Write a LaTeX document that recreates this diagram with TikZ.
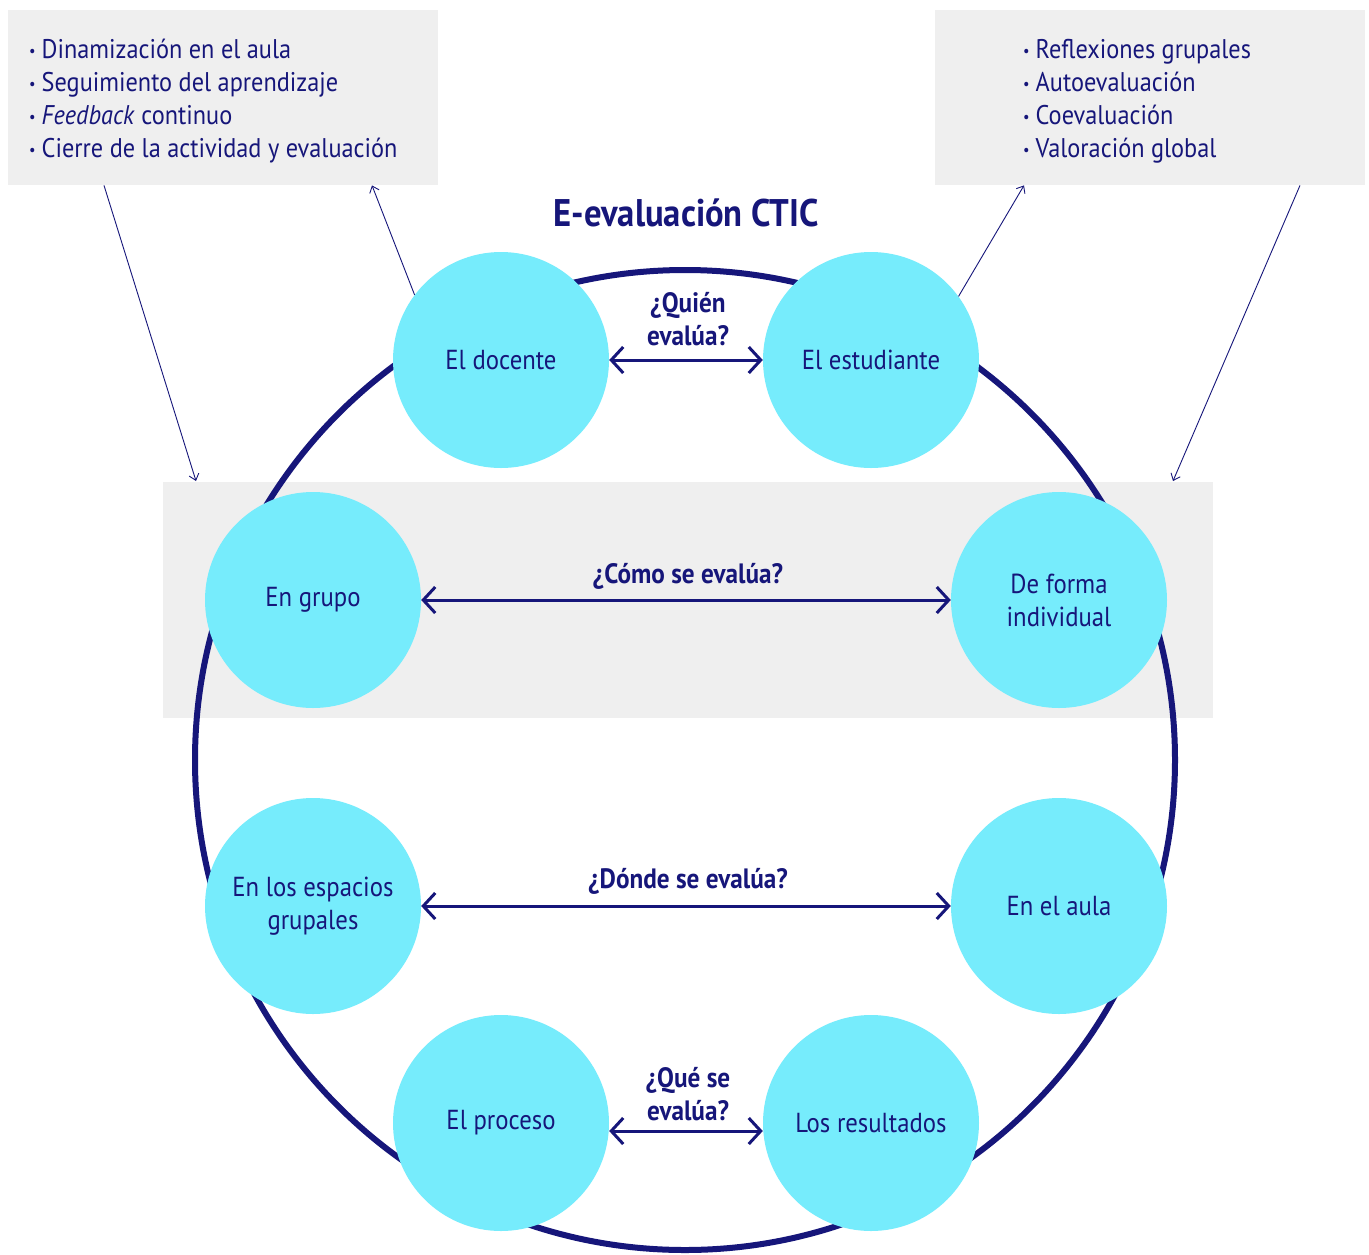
\documentclass[tikz,border=0pt]{standalone}
\usepackage{fontspec}
\setmainfont{PT Sans}[FakeStretch=0.9]
\usetikzlibrary{arrows.meta}
\definecolor{navy}{HTML}{16167A}
\definecolor{cyanf}{HTML}{76ECFC}
\definecolor{grayb}{HTML}{EFEFEF}
\newcommand\bul{{\fontsize{16}{16}\selectfont\raisebox{2pt}{•}}\hspace{6pt}}
\begin{document}
\begin{tikzpicture}[x=1pt,y=-1pt,
  bub/.style={circle, fill=cyanf, minimum size=216pt, inner sep=0pt, text=navy,
    font=\fontsize{27.5}{33}\selectfont, align=center},
  graybox/.style={fill=grayb, inner sep=0pt, anchor=north west},
  listline/.style={anchor=base west, inner sep=0pt, text=navy,
    font=\fontsize{27}{33}\selectfont},
  qlabel/.style={text=navy, font=\bfseries\fontsize{28}{33}\selectfont, align=center, inner sep=0pt},
  thinarrow/.style={draw=navy, line width=0.9pt, -{Straight Barb[length=6pt,width=10pt]}},
  bigarrow/.style={draw=navy, line width=3pt, {Straight Barb[length=12pt,width=26pt]}-{Straight Barb[length=12pt,width=26pt]}}
]
\useasboundingbox (0,0) rectangle (1369,1254);
\fill[white] (0,0) rectangle (1369,1254);

% gray boxes
\node[graybox, minimum width=430pt, minimum height=175pt] (boxL) at (8,10) {};
\node[graybox, minimum width=430pt, minimum height=175pt] (boxR) at (935,10) {};
\node[graybox, minimum width=1050pt, minimum height=236pt] (band) at (163,482) {};

\node[listline] (l1) at (29,58) {\bul Dinamización en el aula};
\node[listline] (l2) at (29,91) {\bul Seguimiento del aprendizaje};
\node[listline] (l3) at (29,124) {\bul\textit{Feedback} continuo};
\node[listline] (l4) at (29,157) {\bul Cierre de la actividad y evaluación};
\node[listline] (r1) at (1023,58) {\bul Reflexiones grupales};
\node[listline] (r2) at (1023,91) {\bul Autoevaluación};
\node[listline] (r3) at (1023,124) {\bul Coevaluación};
\node[listline] (r4) at (1023,157) {\bul Valoración global};

% title
\node[text=navy, font=\bfseries\fontsize{38.5}{40}\selectfont, inner sep=0pt, anchor=base] (title) at (686,226) {E-evaluación CTIC};

% ring
\node[circle, draw=navy, line width=6pt, minimum size=980pt, inner sep=0pt] (ring) at (685,760) {};

% bubbles
\node[bub] (docente) at (501,360) {El docente};
\node[bub] (estudiante) at (871,360) {El estudiante};
\node[bub] (grupo) at (313,600) {En grupo};
\node[bub] (individual) at (1059,600) {De forma\\individual};
\node[bub] (espacios) at (313,906) {En los espacios\\grupales};
\node[bub] (aula) at (1059,906) {En el aula};
\node[bub] (proceso) at (501,1123) {El proceso};
\node[bub] (resultados) at (871,1123) {Los resultados};

% horizontal arrows
\draw[bigarrow] (docente) -- (estudiante);
\draw[bigarrow] (grupo) -- (individual);
\draw[bigarrow] (espacios) -- (aula);
\draw[bigarrow] ([yshift=-8pt]proceso.east) -- ([yshift=-8pt]resultados.west);

\node[qlabel] (q1) at (688,319) {¿Quién\\evalúa?};
\node[qlabel] (q2) at (688,576) {¿Cómo se evalúa?};
\node[qlabel] (q3) at (688,881) {¿Dónde se evalúa?};
\node[qlabel] (q4) at (688,1094) {¿Qué se\\evalúa?};

% thin arrows
\coordinate (endL) at (196,481);
\coordinate (endR) at (1173,481);
\draw[thinarrow] ([xshift=96pt]boxL.south west) -- (endL);
\draw[thinarrow] (docente.143) -- ([xshift=364pt]boxL.south west);
\draw[thinarrow] (estudiante.36) -- ([xshift=89pt]boxR.south west);
\draw[thinarrow] ([xshift=365pt]boxR.south west) -- (endR);
\end{tikzpicture}
\end{document}
